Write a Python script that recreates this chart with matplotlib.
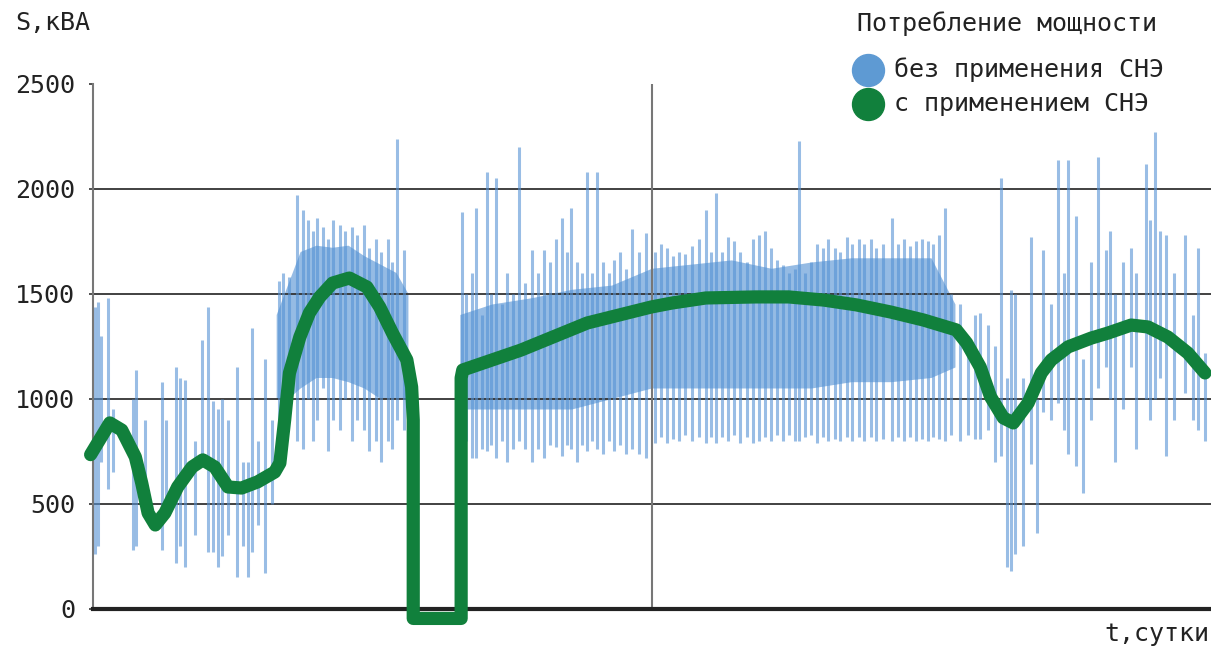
"""
Power consumption with and without energy storage (SNE).
"""

import numpy as np
import matplotlib.pyplot as plt
from matplotlib.lines import Line2D

plt.rcParams['font.family'] = ['DejaVu Sans Mono']

# -----------------------------
# Data (t in days, S in kVA)
# -----------------------------
# green curve: with storage
green_t = [-0.03, 0.21, 0.36, 0.53, 0.61, 0.69, 0.78, 0.90, 1.06, 1.24, 1.375,
           1.525, 1.69, 1.86, 2.06, 2.275, 2.34, 2.40, 2.46, 2.59, 2.71, 2.84,
           3.0, 3.21, 3.43, 3.59, 3.75, 3.93, 3.99, 4.01, 4.01, 4.61, 4.61,
           4.63, 5.36, 6.19, 6.99, 7.25, 7.675, 8.3, 8.71, 9.15, 9.56, 9.99,
           10.4, 10.81, 10.94, 11.11, 11.24, 11.4, 11.525, 11.71, 11.875,
           12.0, 12.21, 12.5, 12.71, 13.0, 13.21, 13.46, 13.71, 13.925]
green_s = [735, 886, 852, 724, 600, 457, 400, 457, 581, 676, 710,
           676, 581, 576, 605, 652, 695, 900, 1124, 1295, 1410, 1486,
           1552, 1576, 1533, 1438, 1314, 1186, 1057, 900, -45, -45, 1100,
           1138, 1233, 1362, 1438, 1457, 1481, 1486, 1486, 1471, 1448, 1414,
           1376, 1329, 1267, 1152, 1010, 910, 886, 981, 1124,
           1186, 1248, 1290, 1314, 1352, 1343, 1295, 1219, 1124]

# blue: dense core of the measured load
band_t = [2.3, 2.45, 2.6, 2.8, 3.0, 3.2, 3.4, 3.6, 3.8, 3.95, np.nan,
          4.6, 5.0, 5.5, 6.0, 6.5, 7.0, 7.5, 8.0, 8.5, 9.0, 9.5, 10.0, 10.5, 10.8]
band_lo = [1000, 1000, 1050, 1100, 1100, 1080, 1050, 1000, 1000, 1000, np.nan,
           950, 950, 950, 950, 1000, 1050, 1050, 1050, 1050, 1050, 1080, 1080, 1100, 1150]
band_hi = [1400, 1550, 1700, 1730, 1720, 1730, 1680, 1640, 1600, 1500, np.nan,
           1400, 1450, 1480, 1520, 1540, 1620, 1640, 1660, 1620, 1650, 1670, 1670, 1670, 1450]

# blue: individual load peaks (position, min, max)
spike_t = [0.03, 0.06, 0.1, 0.19, 0.25, 0.5, 0.54, 0.65, 0.86, 0.91, 1.04, 1.09,
           1.15, 1.275, 1.36, 1.44, 1.5, 1.56, 1.61, 1.69, 1.8, 1.875, 1.94, 1.99,
           2.06, 2.15, 2.24,
           2.325, 2.375, 2.46, 2.56, 2.625, 2.69, 2.75, 2.81, 2.875, 2.94, 3.01,
           3.09, 3.16, 3.24, 3.31, 3.39, 3.46, 3.54, 3.61, 3.69, 3.75, 3.81, 3.9,
           4.625, 4.675, 4.74, 4.8, 4.875, 4.94, 4.99, 5.05, 5.125, 5.19, 5.26,
           5.34, 5.41, 5.5, 5.575, 5.65, 5.725, 5.8, 5.875, 5.94, 5.99, 6.06,
           6.125, 6.19, 6.25, 6.31, 6.39, 6.46, 6.525, 6.6, 6.675, 6.75, 6.84, 6.925,
           7.04, 7.11, 7.19, 7.26, 7.34, 7.41, 7.5, 7.59, 7.675, 7.74, 7.8, 7.875,
           7.95, 8.025, 8.1, 8.19, 8.26, 8.34, 8.41, 8.49, 8.56, 8.64, 8.71, 8.79,
           8.84, 8.91, 8.99, 9.06, 9.14, 9.21, 9.29, 9.36, 9.44, 9.51, 9.59, 9.66,
           9.74, 9.81, 9.89, 10.0, 10.075, 10.15, 10.225, 10.3, 10.375, 10.45,
           10.525, 10.6, 10.675, 10.75,
           10.86, 10.96, 11.05, 11.11, 11.21, 11.3, 11.375, 11.44, 11.5, 11.55,
           11.64, 11.75, 11.825, 11.9, 12.0, 12.09, 12.16, 12.21, 12.31, 12.4,
           12.5, 12.59, 12.69, 12.74, 12.8, 12.9, 13.0, 13.06, 13.18, 13.24, 13.3,
           13.36, 13.44, 13.54, 13.675, 13.775, 13.84, 13.925]
spike_lo = [260, 300, 700, 570, 650, 280, 300, 450, 280, 500, 220, 300,
            200, 350, 740, 270, 270, 200, 250, 350, 150, 300, 150, 270,
            400, 170, 500,
            800, 700, 900, 800, 760, 1000, 800, 900, 1050, 750, 900,
            850, 1000, 800, 900, 850, 750, 800, 700, 800, 760, 900, 850,
            740, 800, 720, 720, 760, 750, 780, 720, 800, 700, 760,
            800, 760, 700, 760, 720, 780, 770, 730, 780, 760, 700,
            780, 750, 800, 760, 740, 800, 750, 780, 740, 760, 740, 720,
            790, 820, 790, 810, 800, 830, 800, 820, 790, 820, 790, 820,
            800, 830, 790, 820, 790, 800, 820, 800, 830, 800, 830, 800,
            800, 820, 830, 790, 820, 800, 810, 800, 820, 800, 820, 800,
            820, 800, 810, 800, 820, 800, 820, 800, 810, 800,
            820, 810, 800, 830,
            800, 830, 810, 810, 850, 700, 730, 200, 180, 260,
            300, 690, 360, 940, 900, 980, 850, 740, 680, 550,
            900, 1050, 1150, 1000, 700, 950, 1150, 760, 1000, 900, 1000,
            1100, 730, 900, 1030, 900, 850, 800]
spike_hi = [1440, 1460, 1300, 1480, 950, 1000, 1140, 900, 1080, 900, 1150, 1100,
            1090, 800, 1280, 1440, 990, 950, 1000, 900, 1150, 700, 700, 1340,
            800, 1190, 900,
            1560, 1600, 1580, 1970, 1900, 1850, 1800, 1860, 1820, 1760, 1850,
            1830, 1800, 1820, 1780, 1830, 1720, 1760, 1700, 1760, 1650, 2240, 1710,
            1890, 1500, 1600, 1910, 1400, 2080, 1500, 2050, 1450, 1600, 1500,
            2200, 1550, 1710, 1600, 1710, 1650, 1760, 1860, 1700, 1910, 1650,
            1600, 2080, 1600, 2080, 1650, 1600, 1660, 1700, 1620, 1810, 1700, 1790,
            1700, 1740, 1720, 1680, 1700, 1690, 1730, 1760, 1900, 1700, 1980, 1700,
            1770, 1750, 1700, 1650, 1760, 1780, 1800, 1720, 1660, 1640, 1600, 1620,
            2230, 1600, 1650, 1740, 1720, 1760, 1720, 1700, 1770, 1740, 1760, 1740,
            1760, 1720, 1740, 1860, 1740, 1760, 1730, 1750, 1760, 1750,
            1740, 1780, 1910, 1500,
            1450, 1300, 1400, 1410, 1350, 1250, 2050, 1100, 1520, 1500,
            1100, 1770, 1000, 1710, 1450, 2140, 1600, 2140, 1870, 1190,
            1650, 2150, 1710, 1800, 1500, 1650, 1720, 1600, 2120, 1850, 2270,
            1800, 1780, 1600, 1780, 1400, 1720, 1220]

y_ticks = [0, 500, 1000, 1500, 2000, 2500]

blue = '#5592d4'
green = '#11803c'
ink = '#222222'

# -----------------------------
# Plot
# -----------------------------
fig = plt.figure(figsize=(12.11, 6.46), dpi=100)
ax = fig.add_axes([0.0768, 0.0573, 0.9232, 0.8127])

ax.fill_between(band_t, band_lo, band_hi, color=blue, alpha=0.62, lw=0)
ax.vlines(spike_t, spike_lo, spike_hi, color=blue, alpha=0.6, lw=2.2)

ax.plot(green_t, green_s, color=green, lw=9.5, solid_capstyle='round',
        solid_joinstyle='round', clip_on=False, zorder=5)

ax.set_xlim(0, 14)
ax.set_ylim(0, 2500)
ax.set_yticks(y_ticks)
ax.set_xticks([])
ax.tick_params(axis='y', length=3, width=1.2, color='#333333', labelsize=18,
               pad=10, labelcolor=ink)

for y in y_ticks[1:-1]:
    ax.axhline(y, color='#333333', lw=1.3, zorder=1)
ax.axvline(7, color='#777777', lw=1.5, zorder=1)

for side in ['top', 'right']:
    ax.spines[side].set_visible(False)
ax.spines['left'].set_color('#777777')
ax.spines['left'].set_linewidth(1.5)
ax.spines['bottom'].set_color(ink)
ax.spines['bottom'].set_linewidth(3)
ax.spines['bottom'].set_zorder(4)

fig.text(15 / 1211, 1 - 23 / 646, 'S,кВА', fontsize=18, color=ink,
         ha='left', va='center')
fig.text(1209 / 1211, 1 - 634 / 646, 't,сутки', fontsize=18, color=ink,
         ha='right', va='center')

# legend, placed by hand
fig.text(857 / 1211, 1 - 24 / 646, 'Потребление мощности', fontsize=18,
         color=ink, ha='left', va='center')
legend_items = [('без применения СНЭ', '#5e9ad3', 70),
                ('с применением СНЭ', green, 104)]
for label, col, ypix in legend_items:
    yf = 1 - ypix / 646
    fig.add_artist(Line2D([868 / 1211], [yf], transform=fig.transFigure,
                          ls='', marker='o', ms=23, color=col))
    fig.text(894 / 1211, yf, label, fontsize=18, color=ink,
             ha='left', va='center')

fig.savefig('out.png', dpi=100)
